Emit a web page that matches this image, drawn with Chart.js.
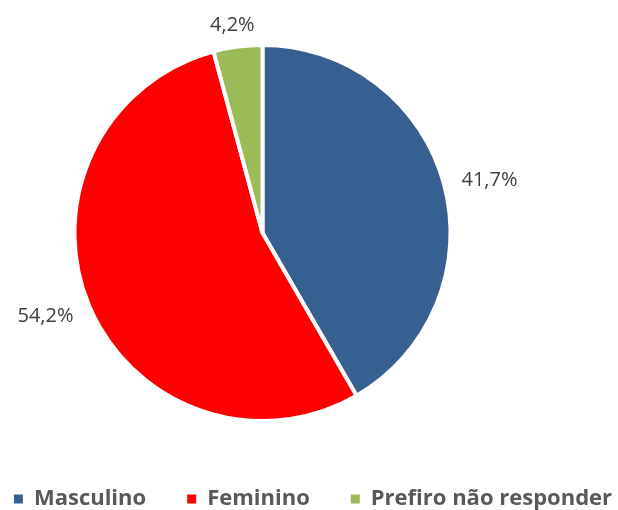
<!DOCTYPE html>
<html>
<head>
<meta charset="utf-8">
<script src="https://cdn.jsdelivr.net/npm/chart.js@4"></script>
<style>
html,body{margin:0;padding:0;background:#fff;}
#wrap{width:618px;height:510px;position:relative;}
</style>
</head>
<body>
<div id="wrap"><canvas id="c" width="618" height="510"></canvas></div>
<script>
const categories = ["Masculino", "Feminino", "Prefiro não responder"];
const values = [41.7, 54.2, 4.2];
const valueLabels = ["41,7%", "54,2%", "4,2%"];
const colors = ["#376092", "#FF0000", "#9BBB59"];

const FONT = "'Open Sans', 'Liberation Sans', sans-serif";
const BORDER = 4;

const pieArea = {
  id: 'pieArea',
  afterLayout(chart) {
    const cx = 262.5, cy = 233, r = 186 + BORDER;
    const a = chart.chartArea;
    a.left = cx - r; a.right = cx + r; a.top = cy - r; a.bottom = cy + r;
    a.width = 2 * r; a.height = 2 * r;
  }
};

const outLabels = {
  id: 'outLabels',
  afterDatasetsDraw(chart) {
    const ctx = chart.ctx;
    const meta = chart.getDatasetMeta(0);
    ctx.save();
    ctx.font = "20px " + FONT;
    ctx.fillStyle = "#404040";
    ctx.textAlign = "center";
    ctx.textBaseline = "middle";
    meta.data.forEach((arc, i) => {
      const p = arc.getProps(['x', 'y', 'startAngle', 'endAngle', 'outerRadius'], true);
      const mid = (p.startAngle + p.endAngle) / 2;
      const dx = Math.cos(mid), dy = Math.sin(mid);
      const txt = valueLabels[i];
      const w = ctx.measureText(txt).width, h = 10;
      const d = p.outerRadius + 19;
      const x = p.x + dx * d + dx * w / 2;
      const y = p.y + dy * d + dy * h / 2 + 2;
      ctx.fillText(txt, x, y);
    });
    ctx.restore();
  }
};

const bottomLegend = {
  id: 'bottomLegend',
  afterDraw(chart) {
    const ctx = chart.ctx;
    const ds = chart.data.datasets[0];
    ctx.save();
    ctx.font = "bold 22px " + FONT;
    ctx.textBaseline = "middle";
    ctx.textAlign = "left";
    const box = 9, gapBoxText = 11, gapItems = 41;
    const labels = chart.data.labels;
    const widths = labels.map(t => box + gapBoxText + ctx.measureText(t).width);
    const total = widths.reduce((s, v) => s + v, 0) + gapItems * (labels.length - 1);
    let x = (chart.width - total) / 2 + 4;
    const y = 499;
    labels.forEach((t, i) => {
      ctx.fillStyle = ds.backgroundColor[i];
      ctx.fillRect(x, y - box / 2, box, box);
      ctx.fillStyle = '#595959';
      ctx.fillText(t, x + box + gapBoxText, y);
      x += widths[i] + gapItems;
    });
    ctx.restore();
  }
};

new Chart(document.getElementById('c'), {
  type: 'pie',
  data: {
    labels: categories,
    datasets: [{
      data: values,
      backgroundColor: colors,
      borderColor: '#FFFFFF',
      borderWidth: BORDER
    }]
  },
  options: {
    responsive: false,
    animation: false,
    plugins: {
      tooltip: { enabled: false },
      legend: { display: false }
    }
  },
  plugins: [pieArea, outLabels, bottomLegend]
});
</script>
</body>
</html>
